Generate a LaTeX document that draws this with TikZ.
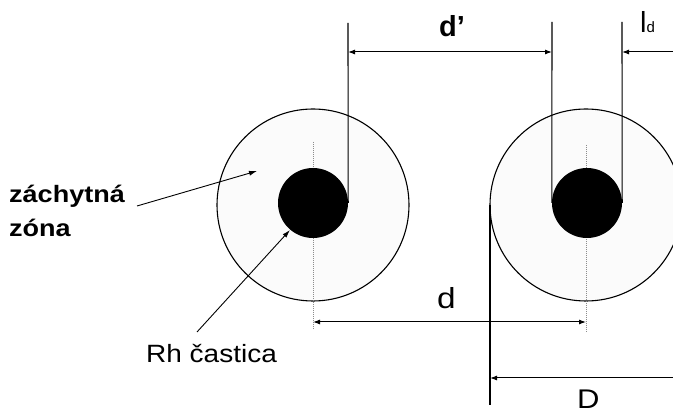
\documentclass[tikz,border=0pt]{standalone}
\usepackage{fontspec}
\setmainfont{Liberation Sans}
\usetikzlibrary{arrows.meta}
\begin{document}
\begin{tikzpicture}[x=1pt,y=-1pt,
  zone/.style={circle,draw=black,line width=1.1pt,fill=black!1.5,minimum size=192pt,inner sep=0pt},
  particle/.style={circle,fill=black,minimum size=70pt,inner sep=0pt},
  guide/.style={line width=1.1pt,draw=black},
  axis/.style={draw=black!45,line width=0.8pt,dash pattern=on 1pt off 1pt},
  dimboth/.style={line width=1pt,{Latex[length=7pt,width=5pt]}-{Latex[length=7pt,width=5pt]}},
  dimend/.style={line width=1pt,-{Latex[length=7pt,width=5pt]}},
  lead/.style={line width=0.9pt,-{Latex[length=8pt,width=5pt]}},
  lbl/.style={inner sep=0pt,anchor=base west},
  big/.style={font=\fontsize{29}{32}\selectfont}]
\useasboundingbox (0,0) rectangle (673,414);

% axes
\coordinate (axLt) at (313,142); \coordinate (axLb) at (313,330);
\coordinate (axRt) at (586,145); \coordinate (axRb) at (586,333);

% capture zones and particles
\node[zone] (zoneL) at (313,205) {};
\node[zone] (zoneR) at (586,205) {};
\draw[axis] (axLt) -- (axLb);
\draw[axis] (axRt) -- (axRb);
\node[particle] (rhL) at (313,203) {};
\node[particle] (rhR) at (587,203) {};

% vertical guide lines
\coordinate (gL) at (348,23);
\coordinate (gR1) at (552,22);
\coordinate (gR2) at (622,22);
\draw[guide] (rhL.east) -- (gL);
\draw[guide] (rhR.west) -- (gR1);
\draw[guide] (rhR.east) -- (gR2);
\coordinate (gDt) at (490,205);
\coordinate (gDb) at (490,405);
\draw[guide] (gDt) -- (gDb);

% dimension d'
\coordinate (dpL) at (348,52); \coordinate (dpR) at (552,52);
\draw[dimboth] (dpL) -- (dpR);
\node[lbl,font=\fontsize{29}{32}\selectfont\bfseries] (dpLabel) at (439,37) {d'};

% dimension l_d
\coordinate (ldR) at (673,52); \coordinate (ldL) at (622,52);
\draw[dimend] (ldR) -- (ldL);
\node[lbl] (ldLabel) at (640,33) {\fontsize{29}{32}\selectfont l\fontsize{15}{17}\selectfont d};

% dimension d
\coordinate (ddL) at (313,322); \coordinate (ddR) at (586,322);
\draw[dimboth] (ddL) -- (ddR);
\node[lbl,big] (dLabel) at (437,309) {\scalebox{1.15}[1]{d}};

% dimension D
\coordinate (DL) at (490,378); \coordinate (DR) at (673,378);
\draw[dimend] (DR) -- (DL);
\node[lbl,font=\fontsize{27}{30}\selectfont] (DLabel) at (577,409) {\scalebox{1.15}[1]{D}};

% labels and leaders
\node[lbl,font=\fontsize{23.7}{26}\selectfont\bfseries] (zach) at (9,203) {\scalebox{1.14}[1]{záchytná}};
\node[lbl,font=\fontsize{23.7}{26}\selectfont\bfseries] (zona) at (9,237) {\scalebox{1.14}[1]{zóna}};
\node[lbl,font=\fontsize{25}{28}\selectfont] (rh) at (146,363) {\scalebox{1.12}[1]{Rh častica}};
\coordinate (zs) at (137,206); \coordinate (ze) at (257,171);
\draw[lead] (zs) -- (ze);
\coordinate (rs) at (197,332); \coordinate (re) at (290,230);
\draw[lead] (rs) -- (re);
\end{tikzpicture}
\end{document}
